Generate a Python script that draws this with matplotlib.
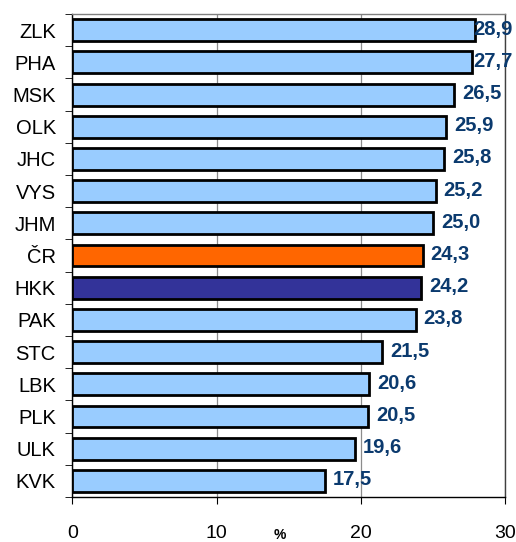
import matplotlib
matplotlib.use("Agg")
import matplotlib.pyplot as plt

# Data (top to bottom as in the chart)
regions = ["ZLK", "PHA", "MSK", "OLK", "JHC", "VYS", "JHM", "ČR",
           "HKK", "PAK", "STC", "LBK", "PLK", "ULK", "KVK"]
bar_values = [27.9, 27.7, 26.5, 25.9, 25.8, 25.2, 25.0, 24.3,
              24.2, 23.8, 21.5, 20.6, 20.5, 19.6, 17.5]
value_labels = ["28,9", "27,7", "26,5", "25,9", "25,8", "25,2", "25,0", "24,3",
                "24,2", "23,8", "21,5", "20,6", "20,5", "19,6", "17,5"]
x_ticks = [0, 10, 20, 30]

colors = []
for r in regions:
    if r == "ČR":
        colors.append("#FF6600")
    elif r == "HKK":
        colors.append("#333399")
    else:
        colors.append("#99CCFF")

plt.rcParams["font.family"] = ["Liberation Sans", "DejaVu Sans"]

W, H = 516, 542
fig = plt.figure(figsize=(W / 100, H / 100), dpi=100)
ax = fig.add_axes([0.1405, 0.083, 0.838, 0.891])

ypos = list(range(len(regions)))
ax.barh(ypos, bar_values, height=0.68, color=colors,
        edgecolor="black", linewidth=2, zorder=3)

ax.set_xlim(0, 30)
ax.set_ylim(len(regions) - 0.5, -0.5)

# value labels right of bars, pushed back inside the figure near the edge
label_w = 40  # approx pixel width of a label
for y, v, lab in zip(ypos, bar_values, value_labels):
    end_px = ax.transData.transform((v, y))
    x_px = min(end_px[0] + 8, W - 3 - label_w)
    fig.text(x_px / W, (end_px[1] + 1) / H, lab, ha="left", va="center",
             fontsize=14.5, fontweight="bold", color="#0B3A6E", zorder=4)

ax.set_xticks(x_ticks)
ax.set_xticklabels([str(t) for t in x_ticks], fontsize=14)
ax.set_yticks(ypos)
ax.set_yticklabels(regions, fontsize=14.5)
ax.tick_params(axis="y", length=0, pad=12)
ax.tick_params(axis="x", length=5, pad=15, direction="out")

# y ticks at category boundaries
ax.set_yticks([i + 0.5 for i in range(-1, len(regions))], minor=True)
ax.tick_params(axis="y", which="minor", length=5, direction="out")

ax.grid(axis="x", color="#8C8C8C", linewidth=0.9, zorder=0)
ax.spines["left"].set_color("black")
ax.spines["bottom"].set_color("black")
ax.spines["top"].set_color("#808080")
ax.spines["right"].set_color("#404040")
for s in ax.spines.values():
    s.set_linewidth(1.0)

fig.text(0.543, 0.0, "%", ha="center", va="bottom",
         fontsize=10, fontweight="bold")

fig.savefig("out.png", dpi=100)
